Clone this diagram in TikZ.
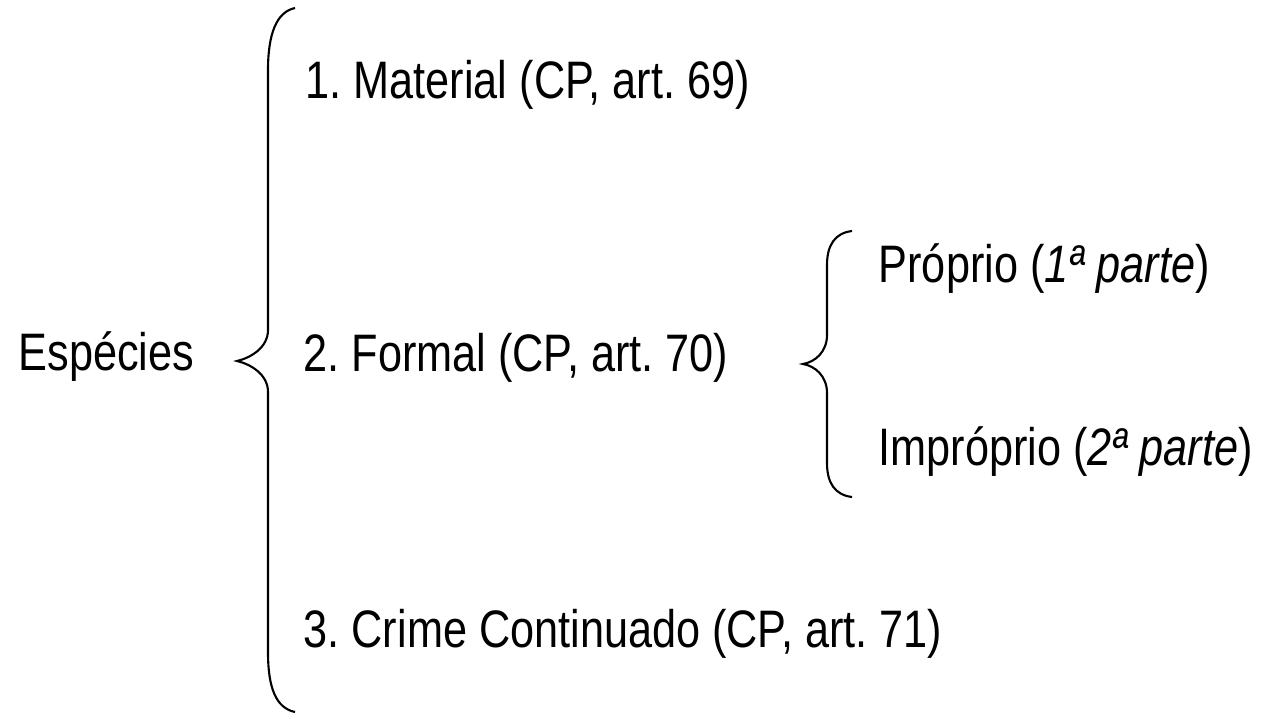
\documentclass[tikz,border=0pt]{standalone}
\usepackage{fontspec}
\setmainfont{Liberation Sans}[FakeStretch=0.82]
\usetikzlibrary{calc}
\frenchspacing

\begin{document}
\begin{tikzpicture}[x=0.01cm,y=-0.01cm,
  texto/.style={inner sep=0pt,anchor=base west,font=\fontsize{15}{18}\selectfont},
  chave/.style={draw,line width=0.6pt}]
\useasboundingbox (0,0) rectangle (1261,718);
\node [texto] (esp) at (18,370) {Espécies};
\node [texto] (mat) at (305,98) {1. Material (CP, art. 69)};
\node [texto] (form) at (303,371) {2. Formal (CP, art. 70)};
\node [texto] (cont) at (303,647) {3. Crime Continuado (CP, art. 71)};
\node [texto] (prop) at (878,282) {Próprio (\textit{1ª parte})};
\node [texto] (impr) at (878,465) {Impróprio (\textit{2ª parte})};
% chaves
\coordinate (c1top) at (295,8);
\coordinate (c1tip) at (237,361);
\coordinate (c1bot) at (295,712);
\coordinate (c2top) at (852,231);
\coordinate (c2tip) at (803,364);
\coordinate (c2bot) at (852,497);
\path [chave] (c1top) .. controls (276,12) and (268,35) .. (268,70) -- (268,330)
  .. controls (268,348) and (250,358) .. (c1tip)
  .. controls (250,364) and (268,374) .. (268,392) -- (268,652)
  .. controls (268,688) and (276,708) .. (c1bot);
\path [chave] (c2top) .. controls (835,233) and (827,245) .. (827,265) -- (827,335)
  .. controls (827,352) and (815,362) .. (c2tip)
  .. controls (815,366) and (827,376) .. (827,393) -- (827,463)
  .. controls (827,483) and (835,495) .. (c2bot);
\end{tikzpicture}
\end{document}
